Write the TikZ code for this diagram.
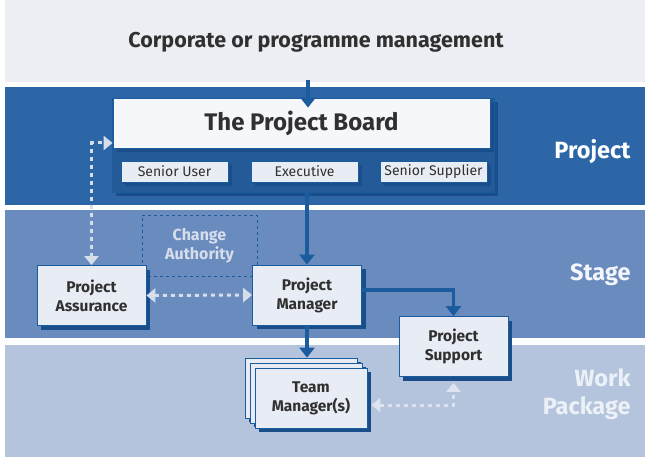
\documentclass[tikz,border=0pt]{standalone}
\usepackage{fontspec}
\setmainfont{Fira Sans}
\usetikzlibrary{arrows.meta,positioning,shadows}

\definecolor{bandtop}{HTML}{ECEEF3}
\definecolor{bandproj}{HTML}{2C66A6}
\definecolor{bandstage}{HTML}{6A8BBE}
\definecolor{bandwp}{HTML}{B4C4DD}
\definecolor{boxfill}{HTML}{E8ECF4}
\definecolor{edgeblue}{HTML}{1B5C9E}
\definecolor{shadowblue}{HTML}{1A4E8A}
\definecolor{panelblue}{HTML}{245A98}
\definecolor{textgrey}{HTML}{303030}
\definecolor{dotlight}{HTML}{D6DEEC}

\begin{document}
\begin{tikzpicture}[x=1pt, y=-1pt,
    box/.style={draw=edgeblue, line width=0.8pt, fill=boxfill, text=textgrey, align=center, inner sep=0pt,
        font=\bfseries\fontsize{15.5}{19}\selectfont, minimum width=109pt, minimum height=60pt,
        drop shadow={shadow xshift=4pt, shadow yshift=-4pt, fill=shadowblue, opacity=1}},
    subbox/.style={box, minimum width=107pt, minimum height=21pt, font=\fontsize{14}{16}\selectfont,
        drop shadow={shadow xshift=2pt, shadow yshift=-2pt, fill=shadowblue, opacity=1}},
    bandlabel/.style={anchor=east, align=right, font=\bfseries\fontsize{23.5}{28}\selectfont},
    arrow/.style={-{Triangle[width=15pt,length=10pt]}, line width=3.5pt, draw=edgeblue},
    dotarrow/.style={{Triangle[width=14pt,length=9pt]}-{Triangle[width=14pt,length=9pt]}, line width=3pt,
        dash pattern=on 4pt off 4pt, draw=dotlight}
]
\useasboundingbox (0,0) rectangle (645,473);
\fill[white] (0,0) rectangle (645,473);

% bands
\fill[bandtop] (5,0) rectangle (645,82);
\fill[bandproj] (5,87) rectangle (645,205);
\fill[bandstage] (5,210) rectangle (645,338);
\fill[bandwp] (5,345) rectangle (645,457);

\node[text=textgrey, font=\bfseries\fontsize{21.5}{24}\selectfont] (corp) at (316,42) {Corporate or programme management};
\coordinate (corpedge) at (308,80);

\node[bandlabel, text=white] (lproj) at (634,152) {Project};
\node[bandlabel, text=white!92!bandstage] (lstage) at (634,275) {Stage};
\node[bandlabel, text=white!75!bandwp] (lwp) at (634,394) {Work\\Package};

% project board
\node[draw=edgeblue, fill=panelblue, minimum width=382pt, minimum height=94pt, inner sep=0pt,
    drop shadow={shadow xshift=4pt, shadow yshift=-4pt, fill=shadowblue, opacity=1}] (boardpanel) at (303,145) {};
\node[box, fill=white!60!boxfill, minimum width=377pt, minimum height=50pt, font=\bfseries\fontsize{24}{28}\selectfont,
    drop shadow={opacity=0}] (board) at (301.5,123) {The Project Board};
\node[subbox] (su) at (174.5,171.5) {Senior User};
\node[subbox] (ex) at (304.5,171.5) {Executive};
\node[subbox] (ss) at (433.5,171.5) {Senior Supplier};

% stage
\node[draw=edgeblue, dashed, line width=0.8pt, minimum width=115pt, minimum height=61pt, inner sep=0pt,
    text=dotlight, align=center, font=\bfseries\fontsize{16}{19}\selectfont] (ca) at (199.5,245.5) {Change\\Authority};
\node[box] (pa) at (91.5,295.5) {Project\\Assurance};
\node[box] (pm) at (307,295) {Project\\Manager};
\node[box] (ps) at (453.5,346.5) {Project\\Support};

% work package
\node[box, minimum width=112pt, drop shadow={opacity=0}] (tm3) at (301,388) {};
\node[box, minimum width=112pt, drop shadow={opacity=0}] (tm2) at (306,393) {};
\node[box, minimum width=112pt] (tm) at (311,398) {Team\\Manager(s)};

% connectors
\draw[arrow] (corpedge) -- ([yshift=-10pt]board.north -| corpedge);
\draw[arrow] (boardpanel.south -| pm) -- (pm.north);
\draw[arrow] (pm.south) -- (pm.south |- tm3.north);
\draw[arrow] ([yshift=5pt]pm.east) -| (ps.north);
\draw[dotarrow] (pa.north) |- ([yshift=-20pt]board.west);
\draw[dotarrow] (pa.east) -- (pm.west);
\draw[dotarrow, draw=white!55!bandwp, shorten <=4pt, shorten >=6pt] ([yshift=-7pt]tm.east) -| (ps.south);
\end{tikzpicture}
\end{document}
